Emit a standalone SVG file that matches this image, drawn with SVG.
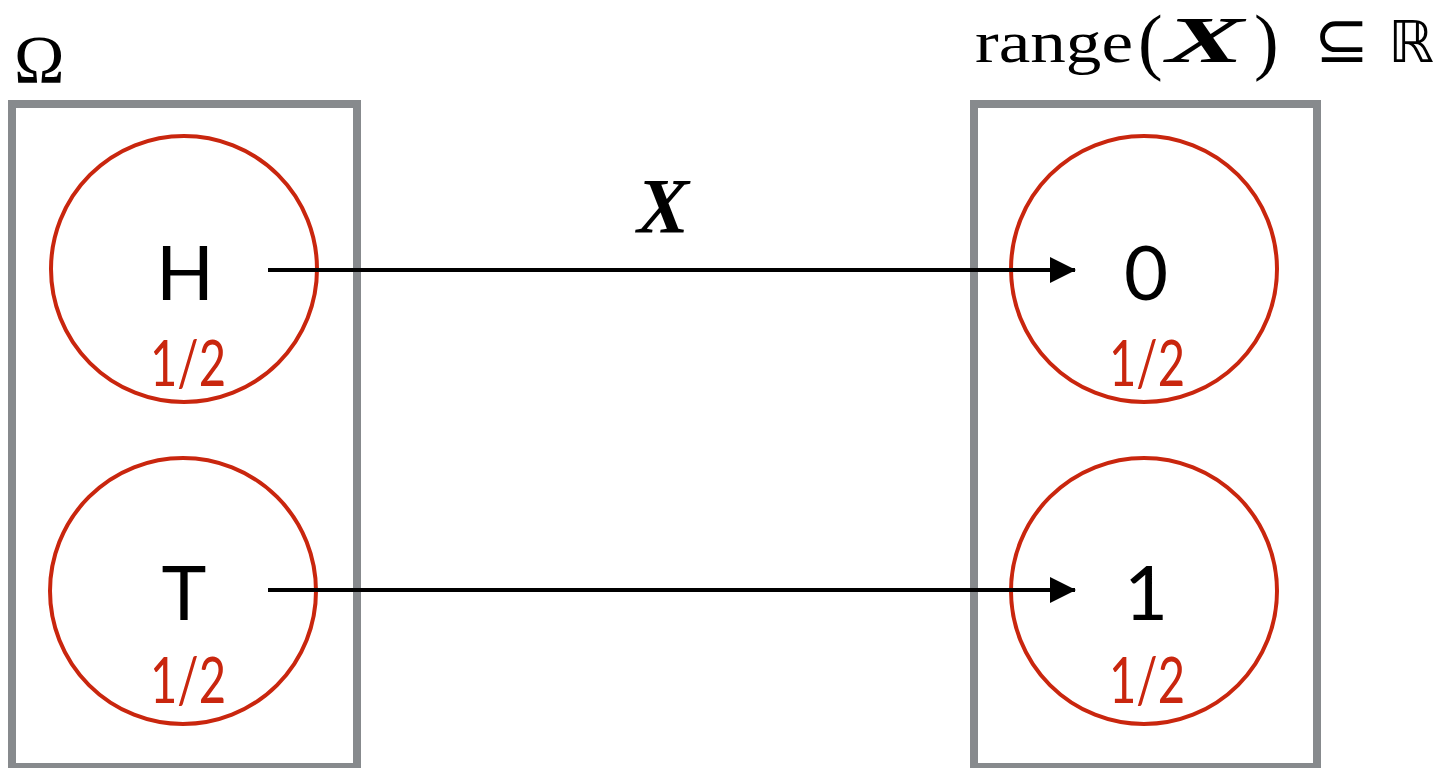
<svg xmlns="http://www.w3.org/2000/svg" width="1445" height="768" viewBox="0 0 1445 768">
<style>
.box{fill:none;stroke:#878a8d;stroke-width:8}
.node{fill:none;stroke:#c9260e;stroke-width:4}
.lbl{font-family:Lato,"Liberation Sans",sans-serif;font-size:76px;fill:#000;text-anchor:middle}
.prob{font-family:Lato,"Liberation Sans",sans-serif;font-size:64px;fill:#c9260e}
.math{font-family:"Liberation Serif","DejaVu Serif",serif;fill:#000}
.edge{stroke:#000;stroke-width:4;fill:none}
</style>
<defs>
<marker id="ah" markerUnits="userSpaceOnUse" markerWidth="26" markerHeight="26" refX="25" refY="13" orient="auto">
<path d="M0,0 L26,13 L0,26 Z" fill="#000"/>
</marker>
</defs>
<g id="omega">
<rect class="box" x="12" y="104" width="345" height="663"/>
<text class="math" x="14" y="82" font-size="68">Ω</text>
</g>
<g id="range">
<rect class="box" x="974" y="104" width="343" height="663"/>
<text class="math" y="62" font-size="60"><tspan x="975" textLength="158" lengthAdjust="spacingAndGlyphs">range</tspan><tspan x="1138" font-size="74" dy="4">(</tspan><tspan x="1166" dy="-4" font-size="66" font-weight="bold" font-style="italic" textLength="78" lengthAdjust="spacingAndGlyphs">X</tspan><tspan x="1254" font-size="74" dy="4">)</tspan><tspan x="1314" dy="-4" font-family="DejaVu Sans,sans-serif" font-size="66">⊆</tspan><tspan x="1388" font-family="DejaVu Sans,sans-serif" font-size="58">ℝ</tspan></text>
</g>
<g id="node-H">
<circle class="node" cx="184" cy="269" r="133"/>
<text class="lbl" x="185" y="300">H</text>
<text class="prob" x="150" y="386" textLength="76" lengthAdjust="spacingAndGlyphs">1/2</text>
</g>
<g id="node-T">
<circle class="node" cx="183" cy="591" r="133"/>
<text class="lbl" x="184" y="620">T</text>
<text class="prob" x="150" y="703" textLength="76" lengthAdjust="spacingAndGlyphs">1/2</text>
</g>
<g id="node-0">
<circle class="node" cx="1144" cy="269" r="133"/>
<text class="lbl" x="1146" y="300">0</text>
<text class="prob" x="1109" y="386" textLength="76" lengthAdjust="spacingAndGlyphs">1/2</text>
</g>
<g id="node-1">
<circle class="node" cx="1144" cy="591" r="133"/>
<text class="lbl" x="1146" y="620">1</text>
<text class="prob" x="1109" y="703" textLength="76" lengthAdjust="spacingAndGlyphs">1/2</text>
</g>
<g id="connectors">
<line class="edge" x1="268" y1="270" x2="1075" y2="270" marker-end="url(#ah)"/>
<line class="edge" x1="268" y1="590" x2="1075" y2="590" marker-end="url(#ah)"/>
<text class="math" x="663" y="232" font-size="78" font-weight="bold" font-style="italic" text-anchor="middle">X</text>
</g>
</svg>
